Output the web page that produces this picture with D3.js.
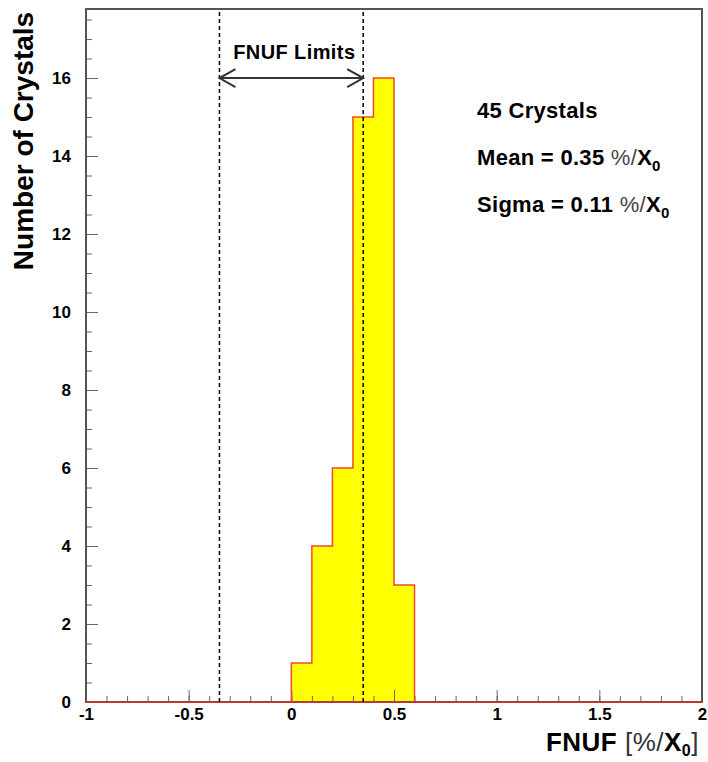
<!DOCTYPE html>
<html>
<head>
<meta charset="utf-8">
<script src="https://cdn.jsdelivr.net/npm/d3@7"></script>
<style>
  body { margin: 0; background: #fff; }
  text { font-family: "Liberation Sans", Arial, Helvetica, sans-serif; }
</style>
</head>
<body>
<svg id="canvas"></svg>
<script>
// histogram bins (lower edges) and counts
let binEdges = [0, 0.1, 0.2, 0.3, 0.4, 0.5, 0.6]
let counts = [1, 4, 6, 15, 16, 3]
let limits = [-0.35, 0.35]
let xTicks = [-1, -0.5, 0, 0.5, 1, 1.5, 2]
let yTicks = [0, 2, 4, 6, 8, 10, 12, 14, 16]
let statLines = [
    {label: "45 Crystals"},
    {label: "Mean = 0.35 ", unit: true},
    {label: "Sigma = 0.11 ", unit: true}
]

let width = 708
let height = 762
let plotLeft = 86, plotRight = 702, plotTop = 9, plotBottom = 702

let canvas = d3.select("#canvas")
    .attr("width", width)
    .attr("height", height)

let xScale = d3.scaleLinear().domain([-1, 2]).range([plotLeft, plotRight])
let yScale = d3.scaleLinear().domain([0, 17.77]).range([plotBottom, plotTop])

// step outline of the histogram
let pts = [[-1, 0], [binEdges[0], 0]]
counts.forEach((c, i) => {
    pts.push([binEdges[i], c])
    pts.push([binEdges[i + 1], c])
})
pts.push([binEdges[binEdges.length - 1], 0])
pts.push([2, 0])

let line = d3.line().x(d => xScale(d[0])).y(d => yScale(d[1]))

canvas.append("path")
    .attr("d", line(pts))
    .attr("fill", "#ffff00")
    .attr("stroke", "none")

// axes with inner ticks
let drawAxes = () => {
    let xMinor = d3.axisBottom(xScale).tickValues(d3.range(-10, 21).map(d => d / 10))
        .tickSize(-6).tickFormat("")
    let xMajor = d3.axisBottom(xScale).tickValues(xTicks).tickSize(-12).tickPadding(6)
        .tickFormat(d => String(d))
    let yMinor = d3.axisLeft(yScale).tickValues(d3.range(0, 36).map(d => d / 2))
        .tickSize(-6).tickFormat("")
    let yMajor = d3.axisLeft(yScale).tickValues(yTicks).tickSize(-12).tickPadding(15)

    ;[xMinor, xMajor].forEach(a => {
        canvas.append("g").attr("transform", "translate(0," + plotBottom + ")").call(a)
    })
    ;[yMinor, yMajor].forEach(a => {
        canvas.append("g").attr("transform", "translate(" + plotLeft + ",0)").call(a)
    })
    canvas.selectAll(".domain").remove()
    canvas.selectAll(".tick line").attr("stroke", "#666").attr("stroke-width", 1)
    canvas.selectAll(".tick text")
        .attr("fill", "#000")
        .style("font-size", "17px")
        .style("font-weight", "bold")
}
drawAxes()

// histogram outline on top
canvas.append("path")
    .attr("d", line(pts))
    .attr("fill", "none")
    .attr("stroke", "#f04a2a")
    .attr("stroke-width", 1.5)

// frame
canvas.append("rect")
    .attr("x", plotLeft).attr("y", plotTop)
    .attr("width", plotRight - plotLeft).attr("height", plotBottom - plotTop)
    .attr("fill", "none").attr("stroke", "#555").attr("stroke-width", 2)

canvas.append("line")
    .attr("x1", plotLeft).attr("x2", plotRight)
    .attr("y1", yScale(0)).attr("y2", yScale(0))
    .attr("stroke", "#b83a30").attr("stroke-width", 2)

// limit lines
canvas.selectAll(".limit")
    .data(limits)
    .enter()
    .append("line")
    .attr("x1", d => xScale(d)).attr("x2", d => xScale(d))
    .attr("y1", plotBottom).attr("y2", plotTop)
    .attr("stroke", "#000").attr("stroke-width", 1.5)
    .attr("stroke-dasharray", "4,3")

// double arrow
let ay = yScale(16)
let ax1 = xScale(limits[0]), ax2 = xScale(limits[1])
canvas.append("path")
    .attr("d", "M" + ax1 + "," + ay + "L" + ax2 + "," + ay
        + "M" + (ax1 + 16) + "," + (ay - 9) + "L" + ax1 + "," + ay + "L" + (ax1 + 16) + "," + (ay + 9)
        + "M" + (ax2 - 16) + "," + (ay - 9) + "L" + ax2 + "," + ay + "L" + (ax2 - 16) + "," + (ay + 9))
    .attr("fill", "none").attr("stroke", "#333").attr("stroke-width", 2)

canvas.append("text")
    .attr("x", (ax1 + ax2) / 2 + 3).attr("y", 59)
    .attr("text-anchor", "middle")
    .style("font-size", "20px").style("font-weight", "bold")
    .style("letter-spacing", "0.4px")
    .text("FNUF Limits")

// stats box text
let stats = canvas.selectAll(".stat")
    .data(statLines)
    .enter()
    .append("text")
    .attr("x", 477)
    .attr("y", (d, i) => 118 + i * 47)
    .style("font-size", "22px").style("font-weight", "bold")
    .style("letter-spacing", "0.3px")

stats.append("tspan").text(d => d.label)
stats.filter(d => d.unit).append("tspan").style("font-weight", "normal").attr("fill", "#444").text("%/")
stats.filter(d => d.unit).append("tspan").text("X")
stats.filter(d => d.unit).append("tspan").attr("dy", 6).style("font-size", "15px").text("0")

// axis titles
canvas.append("text")
    .attr("transform", "translate(33,141) rotate(-90)")
    .attr("text-anchor", "middle")
    .style("font-size", "28px").style("font-weight", "bold")
    .text("Number of Crystals")

let xt = canvas.append("text")
    .attr("x", 699).attr("y", 751)
    .attr("text-anchor", "end")
    .style("font-size", "26px").style("font-weight", "bold")
    .style("letter-spacing", "0.5px")
xt.append("tspan").text("FNUF ")
xt.append("tspan").style("font-weight", "normal").attr("fill", "#333").text("[%/")
xt.append("tspan").text("X")
xt.append("tspan").attr("dy", 5).style("font-size", "16px").text("0")
xt.append("tspan").attr("dy", -5).style("font-weight", "normal").attr("fill", "#333").text("]")
</script>
</body>
</html>
